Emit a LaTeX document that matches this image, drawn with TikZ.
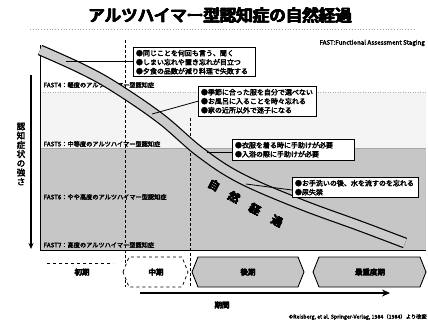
\documentclass[tikz,border=0pt]{standalone}
\usepackage{fontspec}
\setmainfont{Noto Sans CJK JP}
\newfontfamily\jpb{Noto Sans CJK JP}[FakeBold=3]
\newcommand\heavytxt[1]{\rlap{#1}\kern0.35pt\rlap{#1}\kern0.35pt\rlap{#1}\kern0.35pt#1}
\newcommand\semitxt[1]{\rlap{#1}\kern0.25pt#1}
\usetikzlibrary{arrows.meta}
\begin{document}
\begin{tikzpicture}[x=1pt,y=-1pt,
  lbl/.style={font=\jpb\fontsize{6.2}{7}\selectfont, anchor=west, inner sep=0.5pt},
  bubble/.style={draw, line width=0.9pt, fill=white, align=left, anchor=north west, inner sep=2.5pt, font=\jpb\fontsize{7}{9}\selectfont},
  tail/.style={line width=0.8pt},
  vdash/.style={line width=0.9pt, dash pattern=on 3pt off 2pt},
  band/.style={line width=#1, line cap=butt},
  bandtxt/.style={font=\jpb\fontsize{11}{11}\selectfont, rotate=-28, inner sep=0},
  pertxt/.style={font=\jpb\fontsize{7.5}{8}\selectfont, inner sep=0}]
\useasboundingbox (0,0) rectangle (428,322);
\fill[white] (0,0) rectangle (428,322);
% title
\node[font=\jpb\fontsize{16.5}{17}\selectfont, inner sep=0] (title) at (220,15) {\heavytxt{アルツハイマー型認知症の自然経過}};
\draw[gray!70, line width=0.8pt, dotted] (30,29) -- (415,29);
\node[font=\jpb\fontsize{6.2}{7}\selectfont, anchor=east, inner sep=0] (fast) at (425,43) {FAST:Functional Assessment Staging};
% regions
\fill[gray!9] (40,92) rectangle (426,148);
\fill[gray!45] (40,148) rectangle (426,250);
\draw[gray!60, line width=0.5pt, dotted] (40,92) -- (426,92);
\draw[gray!70, line width=0.5pt] (40,148) -- (426,148);
\draw[line width=1pt] (40,45) -- (40,250) -- (426,250);
% vertical dashed
\draw[vdash] (125,40) -- (125,287);
\draw[vdash] (190,118) -- (190,287);
% y axis
\draw[line width=1.1pt, -{Stealth[length=6pt,width=5pt]}] (31,75) -- (31,249);
\node[font=\jpb\fontsize{8.5}{9.2}\selectfont, align=center, inner sep=0] (ylab) at (21,154) {認\\知\\症\\状\\の\\強\\さ};
% FAST labels
\node[lbl] (f4) at (43,85) {FAST4：軽度のアルツハイマー型認知症};
\node[lbl] (f5) at (43,144) {FAST5：中等度のアルツハイマー型認知症};
\node[lbl] (f6) at (43,197) {FAST6：やや高度のアルツハイマー型認知症};
\node[lbl] (f7) at (43,245) {FAST7：高度のアルツハイマー型認知症};
% curve band
\def\curvepath{plot[smooth, tension=0.6] coordinates {(40,50) (80,68) (113,86) (160,118) (200,152) (240,178) (300,204) (360,226) (405,243)}}
\draw[band=11pt, black] \curvepath;
\draw[band=8.6pt, gray!40] \curvepath;
\node[bandtxt] (c1) at (214,185) {\heavytxt{自}};
\node[bandtxt] (c2) at (234,197) {\heavytxt{然}};
\node[bandtxt] (c3) at (255,209) {\heavytxt{経}};
\node[bandtxt] (c4) at (277,221) {\heavytxt{過}};
% tail ends
\coordinate (t1) at (66,61);
\coordinate (t2) at (152,114);
\coordinate (t3) at (207,152);
\coordinate (t4) at (246,184);
% bubbles
\node[bubble, text width=117pt] (b1) at (133,47) {●同じことを何回も言う、聞く\\●しまい忘れや置き忘れが目立つ\\●夕食の品数が減り料理で失敗する};
\node[bubble, text width=113pt] (b2) at (198,86) {●季節に合った服を自分で選べない\\●お風呂に入ることを時々忘れる\\●家の近所以外で迷子になる};
\node[bubble, text width=117pt] (b3) at (232,139) {●衣服を着る時に手助けが必要\\●入浴の際に手助けが必要};
\node[bubble, text width=121pt] (b4) at (292,177) {●お手洗いの後、水を流すのを忘れる\\●尿失禁};
\draw[tail] (b1.west |- t1) -- (t1);
\draw[tail] (b2.west) -- (t2);
\draw[tail] (b3.west |- t3) -- (t3);
\draw[tail] (b4.west |- 0,190) -- (t4);
% periods
\draw[line width=0.8pt, dashed] (47,263) -- (113,263);
\node[pertxt] (p1) at (82,272) {\semitxt{初期}};
\draw[line width=0.8pt, dashed, fill=white] (123,272) -- (129,257) -- (182,257) -- (188,272) -- (182,287) -- (129,287) -- cycle;
\node[pertxt] (p2) at (156,272) {\semitxt{中期}};
\draw[line width=0.9pt, fill=gray!45] (192,272) -- (198,257) -- (298,257) -- (304,272) -- (298,287) -- (198,287) -- cycle;
\node[pertxt] (p3) at (248,272) {\semitxt{後期}};
\draw[line width=0.9pt, fill=gray!45] (313,272) -- (319,257) -- (420,257) -- (426,272) -- (420,287) -- (319,287) -- cycle;
\node[pertxt] (p4) at (370,272) {\semitxt{最重度期}};
% time axis
\coordinate (ta) at (140,293);
\coordinate (tb) at (390,293);
\draw[line width=1.8pt, -{Stealth[length=8pt,width=7pt]}] (ta) -- (tb);
\node[pertxt] (tl) at (222,305) {\semitxt{期間}};
\node[font=\jpb\fontsize{5.3}{6}\selectfont, anchor=east, inner sep=0] (credit) at (427,317) {©Reisberg, et al. Springer-Verlag, 1984（1984）より改変};
\end{tikzpicture}
\end{document}
